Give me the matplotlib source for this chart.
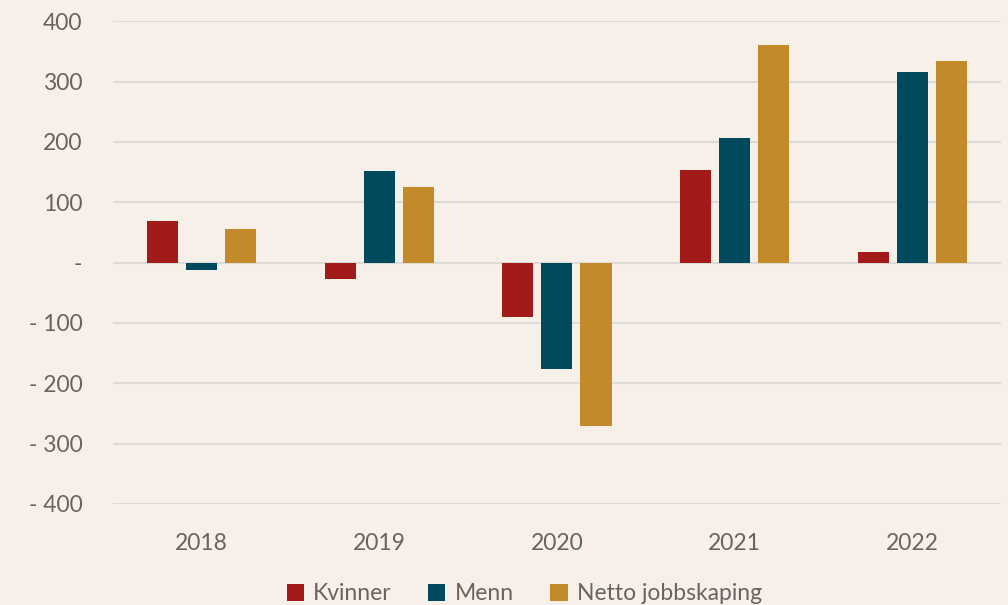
import matplotlib.pyplot as plt
import numpy as np

# Data
years = ['2018', '2019', '2020', '2021', '2022']
kvinner = [69, -27, -91, 154, 18]
menn = [-12, 151, -177, 207, 316]
netto = [56, 126, -270, 360, 334]

series_names = ['Kvinner', 'Menn', 'Netto jobbskaping']
colors = ['#A31A1A', '#004A5E', '#C38A2C']

ytick_vals = [400, 300, 200, 100, 0, -100, -200, -300, -400]
ytick_labels = ['400', '300', '200', '100', '-', '- 100', '- 200', '- 300', '- 400']

bg = '#F6F0E9'
text_col = '#6B6363'
grid_col = '#DEDAD6'

plt.rcParams['font.family'] = ['Lato', 'DejaVu Sans']

fig = plt.figure(figsize=(10.08, 6.05), dpi=100, facecolor=bg)
ax = fig.add_axes([0.112, 0.167, 0.881, 0.798], facecolor=bg)

x = np.arange(len(years))
width = 0.175
offset = 0.22
for i, (vals, name, col) in enumerate(zip([kvinner, menn, netto], series_names, colors)):
    ax.bar(x + (i - 1) * offset, vals, width, color=col, label=name, zorder=3)

ax.set_xlim(-0.5, len(years) - 0.5)
ax.set_ylim(-400, 400)
ax.set_yticks(ytick_vals)
ax.set_yticklabels(ytick_labels)
ax.set_xticks(x)
ax.set_xticklabels(years)

ax.grid(axis='y', color=grid_col, linewidth=1.5, zorder=0)
for s in ax.spines.values():
    s.set_visible(False)
ax.tick_params(axis='both', length=0, labelsize=16.5, colors=text_col)
ax.tick_params(axis='y', pad=22)
ax.tick_params(axis='x', pad=21)

fig.legend(loc='lower center', bbox_to_anchor=(0.52, -0.033), ncol=3, frameon=False,
           fontsize=16.5, labelcolor=text_col, handlelength=0.75, handleheight=0.75,
           handletextpad=0.4, columnspacing=1.6)

fig.savefig('out.png', dpi=100, facecolor=bg)
